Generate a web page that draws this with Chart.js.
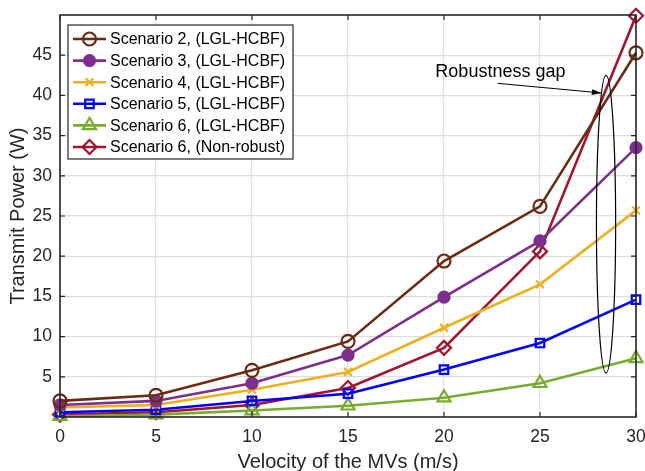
<!DOCTYPE html>
<html>
<head>
<meta charset="utf-8">
<script src="https://cdn.jsdelivr.net/npm/chart.js@4.4.1/dist/chart.umd.min.js"></script>
<style>
  html, body { margin: 0; padding: 0; background: #fff; }
  #wrap { width: 645px; height: 471px; position: relative; }
</style>
</head>
<body>
<div id="wrap"><canvas id="c" width="645" height="471"></canvas></div>
<script>
// velocities (m/s)
const velocity = [0, 5, 10, 15, 20, 25, 30];

// transmit power (W)
const sc2Lgl = [2.0, 2.7, 5.8, 9.4, 19.4, 26.2, 45.3];
const sc3Lgl = [1.5, 2.0, 4.2, 7.7, 14.9, 21.9, 33.5];
const sc4Lgl = [1.2, 1.5, 3.4, 5.6, 11.1, 16.5, 25.7];
const sc5Lgl = [0.6, 0.9, 2.0, 2.9, 5.9, 9.2, 14.6];
const sc6Lgl = [0.1, 0.3, 0.8, 1.4, 2.4, 4.2, 7.3];
const sc6NonRobust = [0.3, 0.6, 1.5, 3.6, 8.6, 20.6, 49.9];

const seriesLabels = [
    'Scenario 2, (LGL-HCBF)',
    'Scenario 3, (LGL-HCBF)',
    'Scenario 4, (LGL-HCBF)',
    'Scenario 5, (LGL-HCBF)',
    'Scenario 6, (LGL-HCBF)',
    'Scenario 6, (Non-robust)'
];
const xTicks = [0, 5, 10, 15, 20, 25, 30];
const yTicks = [5, 10, 15, 20, 25, 30, 35, 40, 45];

const FONT = '"Liberation Sans", Arial, sans-serif';
const toPts = (ys) => ys.map((y, i) => ({ x: velocity[i], y: y }));

const styles = [
    { color: '#6B2A13', shape: 'circle', r: 6.5, fill: false },
    { color: '#7E2F8E', shape: 'circle', r: 5.5, fill: true },
    { color: '#EDB120', shape: 'crossRot', r: 5.5, fill: false },
    { color: '#0000FF', shape: 'rect', r: 6, fill: false },
    { color: '#77AC30', shape: 'triangle', r: 7.5, fill: false },
    { color: '#A2142F', shape: 'rectRot', r: 7, fill: false }
];
const allData = [sc2Lgl, sc3Lgl, sc4Lgl, sc5Lgl, sc6Lgl, sc6NonRobust];

const datasets = allData.map((d, i) => ({
    label: seriesLabels[i],
    data: toPts(d),
    borderColor: styles[i].color,
    backgroundColor: styles[i].fill ? styles[i].color : '#ffffff',
    pointBorderColor: styles[i].color,
    pointBackgroundColor: styles[i].fill ? styles[i].color : 'rgba(0,0,0,0)',
    pointStyle: styles[i].shape,
    pointRadius: styles[i].r,
    pointBorderWidth: 2.2,
    borderWidth: 2.6,
    tension: 0,
    clip: false
}));

// box, inward ticks, legend and annotation
const matlabDecor = {
    id: 'matlabDecor',
    afterDatasetsDraw(chart) {
        const { ctx, chartArea: a, scales: { x, y } } = chart;
        ctx.save();
        // axes box
        ctx.strokeStyle = '#262626';
        ctx.lineWidth = 1.6;
        ctx.strokeRect(a.left, a.top, a.right - a.left, a.bottom - a.top);
        // inward tick marks
        ctx.lineWidth = 1.2;
        ctx.beginPath();
        xTicks.forEach(v => {
            const px = x.getPixelForValue(v);
            ctx.moveTo(px, a.bottom); ctx.lineTo(px, a.bottom - 5);
            ctx.moveTo(px, a.top); ctx.lineTo(px, a.top + 5);
        });
        yTicks.forEach(v => {
            const py = y.getPixelForValue(v);
            ctx.moveTo(a.left, py); ctx.lineTo(a.left + 5, py);
            ctx.moveTo(a.right, py); ctx.lineTo(a.right - 5, py);
        });
        ctx.stroke();

        // ellipse marking the gap
        const cx = x.getPixelForValue(28.44);
        const cy = y.getPixelForValue(24);
        const rx = x.getPixelForValue(28.94) - cx;
        const ry = y.getPixelForValue(5.5) - cy;
        ctx.strokeStyle = '#000';
        ctx.lineWidth = 1.2;
        ctx.beginPath();
        ctx.ellipse(cx, cy, rx, ry, 0, 0, Math.PI * 2);
        ctx.stroke();

        // arrow
        const x0 = x.getPixelForValue(22.8), y0 = y.getPixelForValue(41.5);
        const x1 = x.getPixelForValue(28.2), y1 = y.getPixelForValue(40.3);
        ctx.lineWidth = 1;
        ctx.beginPath();
        ctx.moveTo(x0, y0); ctx.lineTo(x1, y1);
        ctx.stroke();
        const ang = Math.atan2(y1 - y0, x1 - x0);
        ctx.fillStyle = '#000';
        ctx.beginPath();
        ctx.moveTo(x1, y1);
        ctx.lineTo(x1 - 10 * Math.cos(ang - 0.3), y1 - 10 * Math.sin(ang - 0.3));
        ctx.lineTo(x1 - 10 * Math.cos(ang + 0.3), y1 - 10 * Math.sin(ang + 0.3));
        ctx.closePath();
        ctx.fill();

        ctx.font = '18px ' + FONT;
        ctx.fillStyle = '#000';
        ctx.textAlign = 'left';
        ctx.textBaseline = 'middle';
        ctx.fillText('Robustness gap', x.getPixelForValue(19.55), y.getPixelForValue(42.9));

        // legend
        const lx = a.left + 8, ly = a.top + 10, lw = 225, lh = 134;
        ctx.fillStyle = '#fff';
        ctx.fillRect(lx, ly, lw, lh);
        ctx.strokeStyle = '#262626';
        ctx.lineWidth = 1.2;
        ctx.strokeRect(lx, ly, lw, lh);
        ctx.font = '16px ' + FONT;
        seriesLabels.forEach((lab, i) => {
            const yy = ly + 14 + i * 21.6;
            const st = styles[i];
            ctx.strokeStyle = st.color;
            ctx.lineWidth = 2.6;
            ctx.beginPath();
            ctx.moveTo(lx + 5, yy); ctx.lineTo(lx + 38, yy);
            ctx.stroke();
            ctx.lineWidth = 2.2;
            ctx.fillStyle = st.fill ? st.color : 'rgba(0,0,0,0)';
            Chart.helpers.drawPoint(ctx, { pointStyle: st.shape, radius: st.r, borderWidth: 2.2 }, lx + 21.5, yy);
            ctx.fillStyle = '#000';
            ctx.fillText(lab, lx + 42, yy + 1);
        });
        ctx.restore();
    }
};

new Chart(document.getElementById('c'), {
    type: 'line',
    data: { datasets },
    options: {
        responsive: false,
        animation: false,
        layout: { autoPadding: false, padding: { top: 15, right: 9, left: 0, bottom: -3 } },
        plugins: { legend: { display: false }, tooltip: { enabled: false } },
        scales: {
            x: {
                type: 'linear',
                min: 0, max: 30,
                afterBuildTicks: (s) => { s.ticks = xTicks.map(v => ({ value: v })); },
                afterFit: (s) => { s.height = 57; s.paddingLeft = 0; s.paddingRight = 0; },
                grid: { color: '#dedede', lineWidth: 1.2, drawTicks: false },
                border: { display: false },
                ticks: { color: '#262626', font: { family: FONT, size: 17.5 }, padding: 10, maxRotation: 0 },
                title: { display: true, text: 'Velocity of the MVs (m/s)', color: '#262626',
                         font: { family: FONT, size: 20 }, padding: { top: 0, bottom: 0 } }
            },
            y: {
                min: 0, max: 50,
                afterBuildTicks: (s) => { s.ticks = yTicks.map(v => ({ value: v })); },
                afterFit: (s) => { s.width = 60; s.paddingTop = 0; s.paddingBottom = 0; },
                grid: { color: '#dedede', lineWidth: 1.2, drawTicks: false },
                border: { display: false },
                ticks: { color: '#262626', font: { family: FONT, size: 17.5 }, padding: 8 },
                title: { display: true, text: 'Transmit Power (W)', color: '#262626',
                         font: { family: FONT, size: 20 }, padding: { top: 6, bottom: 0 } }
            }
        }
    },
    plugins: [matlabDecor]
});
</script>
</body>
</html>
